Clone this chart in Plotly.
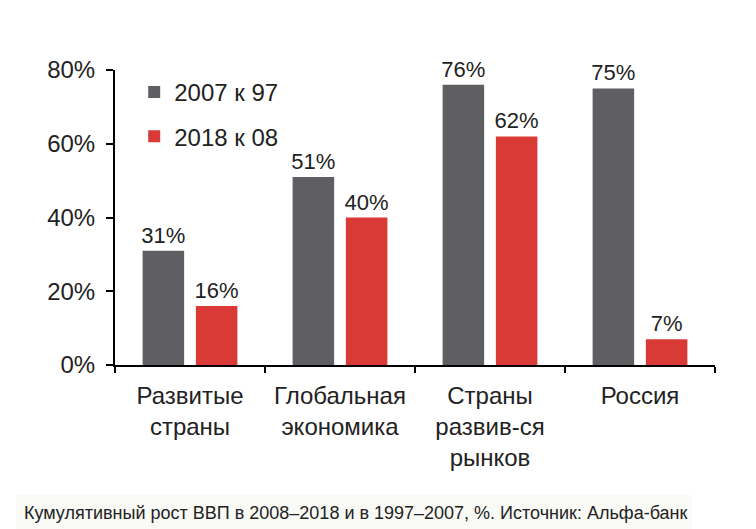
import plotly.graph_objects as go

categories = ["Развитые<br>страны", "Глобальная<br>экономика", "Страны<br>развив-ся<br>рынков", "Россия"]
series_2007 = [31, 51, 76, 75]
series_2018 = [16, 40, 62, 7]
series_names = ["2007 к 97", "2018 к 08"]
y_ticks = [0, 20, 40, 60, 80]
y_tick_labels = ["0%", "20%", "40%", "60%", "80%"]
caption = "Кумулятивный рост ВВП в 2008–2018 и в 1997–2007, %. Источник: Альфа-банк"

FONT = "Liberation Sans, Arial, sans-serif"
TXT = "#222222"

fig = go.Figure()
for vals, name, color, grp in [(series_2007, series_names[0], "#5f5f63", "a"),
                               (series_2018, series_names[1], "#d93a36", "b")]:
    fig.add_trace(go.Bar(
        x=categories, y=vals, name=name, legendgroup=grp,
        marker=dict(color=color, line=dict(width=0)),
        text=[f"{v}%" for v in vals], textposition="outside",
        constraintext="none",
        textfont=dict(size=22, color=TXT, family=FONT),
        cliponaxis=False,
    ))

fig.update_layout(
    width=756, height=529,
    margin=dict(l=115, r=41, t=70, b=164),
    paper_bgcolor="white", plot_bgcolor="white",
    barmode="group", bargap=0.29, bargroupgap=0.22,
    font=dict(family=FONT, size=22, color=TXT),
    showlegend=True,
    legend=dict(
        x=0.032, y=1.0, xanchor="left", yanchor="top",
        font=dict(size=24, color=TXT, family=FONT),
        bgcolor="rgba(0,0,0,0)", tracegroupgap=10, itemwidth=30,
    ),
    xaxis=dict(
        showline=True, linecolor="black", linewidth=2,
        ticks="outside", tickson="boundaries", ticklen=6, tickwidth=2, tickcolor="black",
        tickfont=dict(size=24, color=TXT, family=FONT),
        ticklabelstandoff=8,
        showgrid=False,
    ),
    yaxis=dict(
        range=[0, 80], tickvals=y_ticks, ticktext=y_tick_labels,
        showline=True, linecolor="black", linewidth=2,
        ticks="outside", ticklen=7, tickwidth=2, tickcolor="black",
        tickfont=dict(size=24, color=TXT, family=FONT),
        ticklabelstandoff=6,
        showgrid=False, zeroline=False,
    ),
    shapes=[dict(
        type="rect", xref="paper", yref="paper", layer="below",
        x0=(16 - 115) / 600, x1=(692 - 115) / 600,
        y0=-(529 - 365) / 295, y1=-(495 - 365) / 295,
        fillcolor="#f9f9f6", line=dict(width=0),
    )],
    annotations=[dict(
        text=caption, xref="paper", yref="paper",
        x=(22 - 115) / 600, y=-(513 - 365) / 295, xanchor="left", yanchor="middle",
        showarrow=False, font=dict(size=18, color=TXT, family=FONT),
    )],
)

fig.write_html("out.html")
